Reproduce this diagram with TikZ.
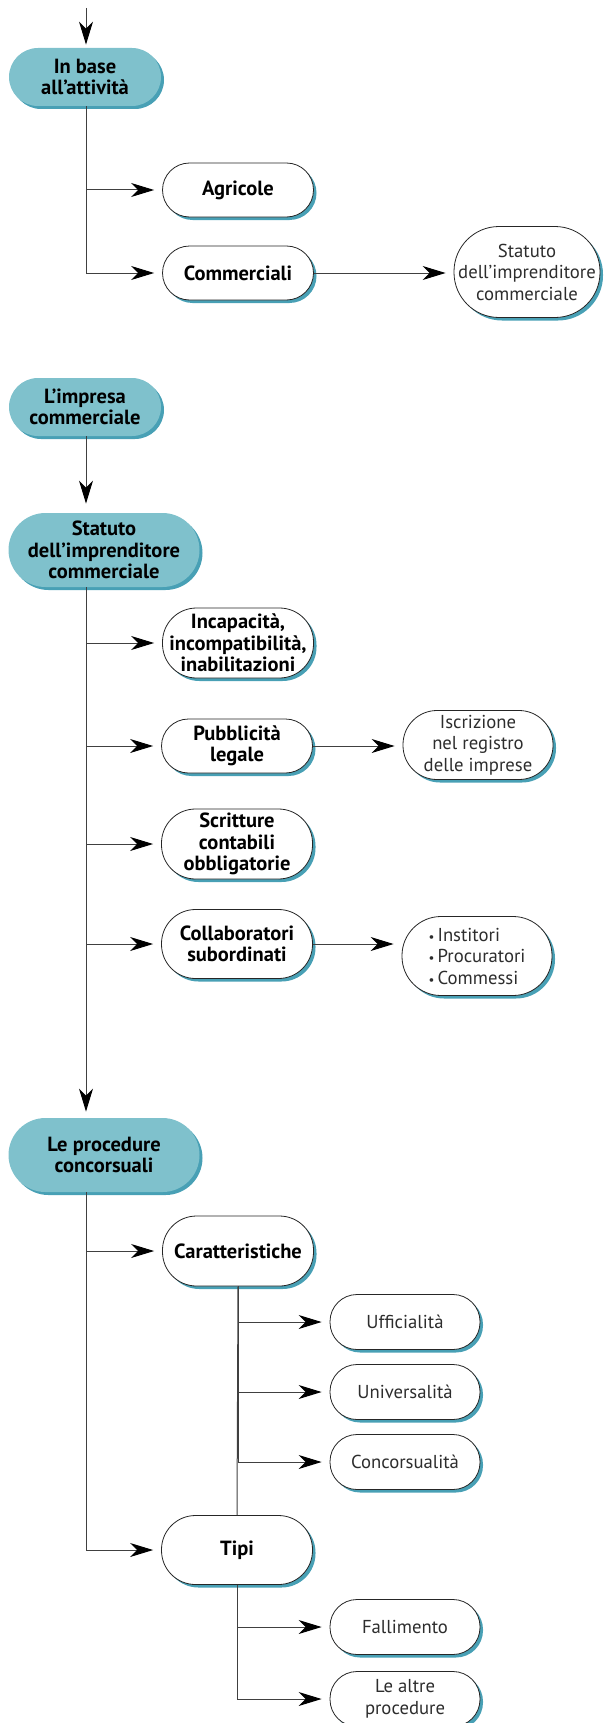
\documentclass[tikz,border=0pt]{standalone}
\usepackage{fontspec}
\setmainfont{PT Sans}
\usetikzlibrary{arrows.meta, positioning, shadows}
\definecolor{tealfill}{RGB}{127,193,204}
\definecolor{tealshadow}{RGB}{72,160,181}
\definecolor{textgray}{RGB}{45,45,45}
\tikzset{
    x=1pt, y=-1pt, % one unit is one pixel of the page
    conn/.style={draw=black!75, line width=1pt, -{Stealth[length=23pt,width=14pt,inset=7pt,black]}, shorten >=8pt}, % the arrows
    box/.style={rectangle, rounded corners=27pt, draw=black!85, line width=0.8pt, fill=white, align=center, inner sep=0pt,
        font=\fontsize{20.5}{21.5}\selectfont,
        drop shadow={shadow xshift=3pt, shadow yshift=-3pt, fill=tealshadow, opacity=1}}, % every node
    topic/.style={box, draw=none, fill=tealfill, rounded corners=29pt, font=\fontsize{20.5}{21.5}\selectfont\bfseries, minimum width=152pt, minimum height=58pt}, % blue headings
    bigtopic/.style={topic, rounded corners=37pt, minimum width=191pt, minimum height=74pt},
    item/.style={box, font=\fontsize{20.5}{21.5}\selectfont\bfseries, minimum width=151pt, minimum height=54pt}, % bold white nodes
    leaf/.style={box, text=textgray, font=\fontsize{18.7}{21.5}\selectfont, minimum width=150pt, minimum height=55pt}, % plain white nodes
    tall/.style={rounded corners=34pt, minimum height=69pt},
}
\newcommand{\dotitem}{{\fontsize{13}{13}\selectfont•}\,}
\begin{document}
\begin{tikzpicture}
\useasboundingbox (0,0) rectangle (604,1723);
\coordinate (spine) at (86,0);
\coordinate (entry) at (86,8);

\node[topic] (base) at (85,77) {In base\\all’attività};
\node[item] (agr) at (238,190) {Agricole};
\node[item] (comm) at (238,273) {Commerciali};
\node[leaf, rounded corners=45pt, minimum width=146pt, minimum height=91pt] (statcomm) at (527,272) {Statuto\\dell’imprenditore\\commerciale};

\node[topic] (impresa) at (85,407) {L’impresa\\commerciale};
\node[bigtopic] (statuto) at (104,550) {Statuto\\dell’imprenditore\\commerciale};
\node[item, tall, minimum height=70pt] (incap) at (238,643) {Incapacità,\\incompatibilità,\\inabilitazioni};
\node[item] (pubbl) at (237,746) {Pubblicità\\legale};
\node[leaf, tall] (iscr) at (478,745) {Iscrizione\\nel registro\\delle imprese};
\node[item, tall, minimum height=70pt] (scritt) at (237,844) {Scritture\\contabili\\obbligatorie};
\node[item, tall] (collab) at (237,944) {Collaboratori\\subordinati};
\node[leaf, rounded corners=39pt, minimum height=79pt, align=left] (ausil) at (477,956) {\dotitem Institori\\\dotitem Procuratori\\\dotitem Commessi};

\node[bigtopic] (proc) at (104,1155) {Le procedure\\concorsuali};
\node[item, tall, minimum height=70pt] (caratt) at (238,1251) {Caratteristiche};
\node[leaf] (uff) at (405,1322) {Ufficialità};
\node[leaf] (univ) at (405,1392) {Universalità};
\node[leaf] (conc) at (405,1462) {Concorsualità};
\node[item, tall] (tipi) at (237,1550) {Tipi};
\node[leaf] (fall) at (405,1627) {Fallimento};
\node[leaf] (altre) at (405,1699) {Le altre\\procedure};

% first block
\draw[conn, shorten >=3pt] (entry) -- (base.north -| entry);
\draw[conn] (base.south -| spine) |- (agr.west);
\draw[conn] (base.south -| spine) |- (comm.west);
\draw[conn] (comm.east) -- (comm.east -| statcomm.west);

% statuto
\draw[conn, shorten >=9pt] (impresa.south -| spine) -- (statuto.north -| spine);
\draw[conn] (statuto.south -| spine) |- (incap.west);
\draw[conn] (statuto.south -| spine) |- (pubbl.west);
\draw[conn] (statuto.south -| spine) |- (scritt.west);
\draw[conn] (statuto.south -| spine) |- (collab.west);
\draw[conn] (pubbl.east) -- (pubbl.east -| iscr.west);
\draw[conn] (collab.east) -- (collab.east -| ausil.west);
\draw[conn, shorten >=6pt] (statuto.south -| spine) -- (proc.north -| spine);

% procedure
\draw[conn] (proc.south -| spine) |- (caratt.west);
\draw[conn] (proc.south -| spine) |- (tipi.west);
\draw[draw=black!75, line width=1pt] (caratt.south) -- (tipi.north);
\draw[conn] (caratt.south) |- (uff.west);
\draw[conn] (caratt.south) |- (univ.west);
\draw[conn] (caratt.south) |- (conc.west);
\draw[conn] (tipi.south) |- (fall.west);
\draw[conn] (tipi.south) |- (altre.west);
\end{tikzpicture}
\end{document}
